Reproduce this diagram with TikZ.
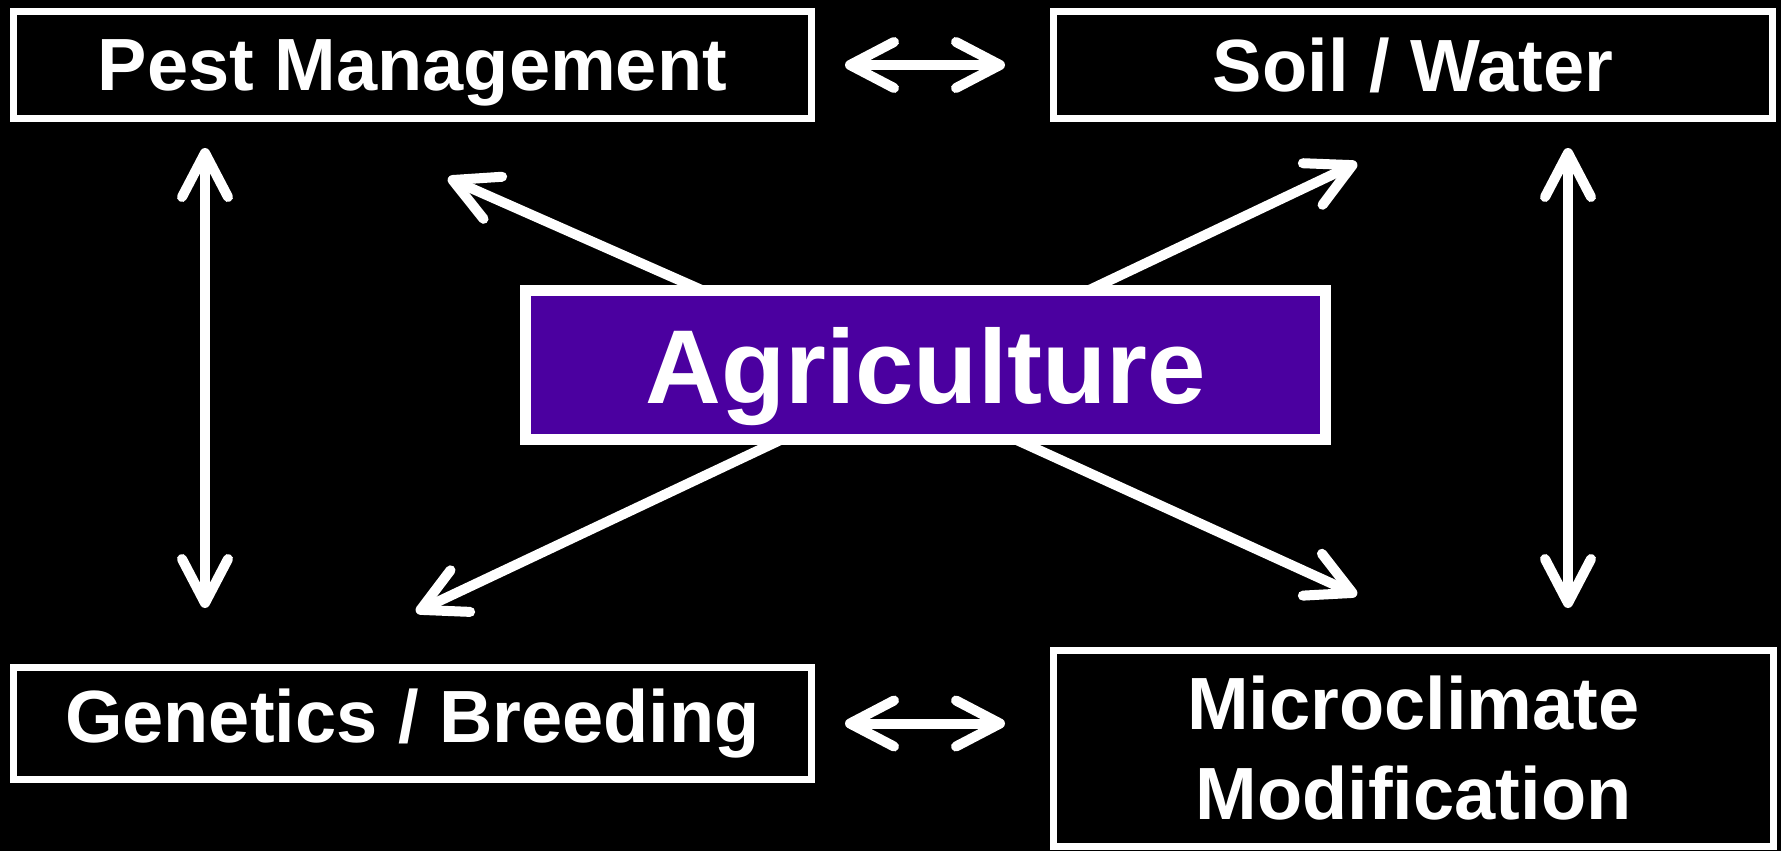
\documentclass[tikz,border=0pt]{standalone}
\usepackage{fontspec}
\setmainfont{Liberation Sans}
\usetikzlibrary{calc,arrows.meta}
\pgfdeclarelayer{back}
\pgfdeclarelayer{links}
\pgfsetlayers{back,links,main}
\definecolor{agripurple}{RGB}{75,0,160}

\begin{document}
\begin{tikzpicture}[x=1pt,y=-1pt,
    box/.style={draw=white,line width=7pt,fill=black,text=white,inner sep=0pt,align=center,
      font=\fontsize{74}{90}\selectfont\bfseries},
    hub/.style={draw=white,line width=11pt,fill=agripurple,text=white,inner sep=0pt,text depth=0pt,
      minimum width=800pt,minimum height=149pt,font=\fontsize{105}{120}\selectfont\bfseries},
    >={Straight Barb[length=44pt,width=46pt,round]},
    link/.style={draw=white,line width=10pt,<->},
    ray/.style={draw=white,line width=10pt,->,shorten <=-20pt}]
  \begin{pgfonlayer}{back}
    \fill[black] (0,0) rectangle (1781,851);
  \end{pgfonlayer}
  \useasboundingbox (0,0) rectangle (1781,851);

  % the five boxes
  \node[box,text depth=0pt,minimum width=798pt,minimum height=107pt] (pest) at (412.5,65) {Pest Management};
  \node[box,minimum width=719pt,minimum height=107pt] (soil) at (1413,65) {Soil / Water};
  \node[box,minimum width=798pt,minimum height=112pt] (gene) at (412.5,723.5) {Genetics / Breeding};
  \node[box,minimum width=720pt,minimum height=196pt] (micro) at (1413.5,748.5) {Microclimate\\Modification};
  \node[hub] (agri) at (925.5,365) {Agriculture};

  % links between the boxes
  \draw[link,shorten <=30pt,shorten >=45pt] (pest.east) -- (pest.east -| soil.west);
  \draw[link,shorten <=30pt,shorten >=45pt] (gene.east) -- (gene.east -| micro.west);
  \draw[link] ([xshift=195pt,yshift=-26pt]pest.south west) -- ([xshift=195pt,yshift=56pt]gene.north west);
  \draw[link] ([xshift=518pt,yshift=-26pt]soil.south west) -- ([xshift=518pt,yshift=39pt]micro.north west);

  % rays out of the centre
  \coordinate (tipPM) at (448,178);
  \coordinate (tipSW) at (1357,163);
  \coordinate (tipGB) at (416,612);
  \coordinate (tipMM) at (1357,595);
  \begin{pgfonlayer}{links}
    \draw[ray] ($(agri.north west)!0.21!(agri.north east)$) -- (tipPM);
    \draw[ray] ($(agri.north west)!0.715!(agri.north east)$) -- (tipSW);
    \draw[ray] ($(agri.south west)!0.308!(agri.south east)$) -- (tipGB);
    \draw[ray] ($(agri.south west)!0.626!(agri.south east)$) -- (tipMM);
  \end{pgfonlayer}
\end{tikzpicture}
\end{document}
